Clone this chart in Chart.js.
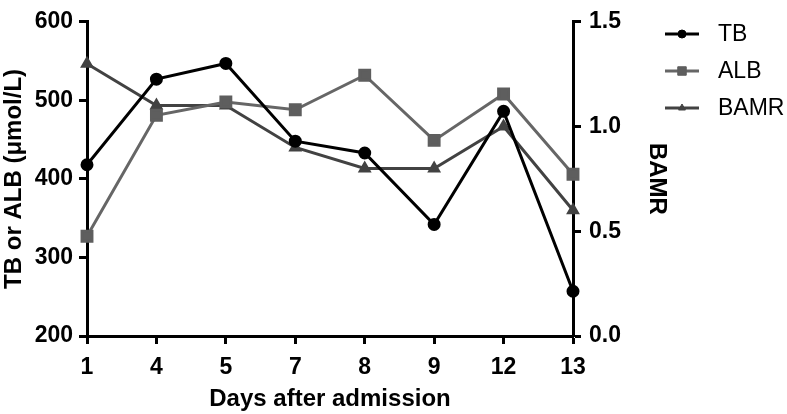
<!DOCTYPE html>
<html>
<head>
<meta charset="utf-8">
<script src="https://cdn.jsdelivr.net/npm/chart.js@4/dist/chart.umd.min.js"></script>
<style>
  html, body { margin: 0; padding: 0; background: #fff; }
  #wrap { width: 787px; height: 414px; position: relative; }
</style>
</head>
<body>
<div id="wrap"><canvas id="chart"></canvas></div>
<script>
// Data
const days = ['1', '4', '5', '7', '8', '9', '12', '13'];
const tbValues = [418, 527, 547, 448, 433, 342, 486, 257];
const albValues = [327, 481, 498, 488, 532, 449, 508, 406];
const bamrValues = [1.3, 1.1, 1.1, 0.9, 0.8, 0.8, 1.0, 0.6];
const leftTicks = [200, 300, 400, 500, 600];
const rightTicks = [0, 0.5, 1.0, 1.5];

const FONT = '"Liberation Sans", Arial, sans-serif';

// Legend drawn by hand: line + marker, like the original figure
const sideLegend = {
  id: 'sideLegend',
  afterDraw(chart) {
    const ctx = chart.ctx;
    chart.data.datasets.forEach((ds, i) => {
      const y = 34 + i * 37;
      ctx.save();
      ctx.strokeStyle = ds.borderColor;
      ctx.lineWidth = 3;
      ctx.beginPath();
      ctx.moveTo(665, y);
      ctx.lineTo(699, y);
      ctx.stroke();
      ctx.fillStyle = ds.pointBackgroundColor;
      ctx.strokeStyle = ds.pointBackgroundColor;
      ctx.lineWidth = 1;
      Chart.helpers.drawPoint(ctx, {
        pointStyle: ds.pointStyle,
        radius: ds.pointRadius - 1,
        borderWidth: 1,
        rotation: 0
      }, 682, y);
      ctx.fillStyle = '#000';
      ctx.font = '23px ' + FONT;
      ctx.textBaseline = 'middle';
      ctx.fillText(ds.label, 718, y + 1);
      ctx.restore();
    });
  }
};

const axisStyle = {
  border: { color: '#000', width: 3 },
  grid: { drawOnChartArea: false, drawTicks: true, tickLength: 8, tickWidth: 3, tickColor: '#000' },
  ticks: { color: '#000', font: { family: FONT, size: 23, weight: 'bold' } }
};

new Chart(document.getElementById('chart'), {
  type: 'line',
  data: {
    labels: days,
    datasets: [
      {
        label: 'TB',
        data: tbValues,
        yAxisID: 'y',
        borderColor: '#000000',
        backgroundColor: '#000000',
        pointBackgroundColor: '#000000',
        pointBorderColor: '#000000',
        pointStyle: 'circle',
        pointRadius: 5,
        borderWidth: 3,
        tension: 0,
        clip: false
      },
      {
        label: 'ALB',
        data: albValues,
        yAxisID: 'y',
        borderColor: '#666666',
        backgroundColor: '#666666',
        pointBackgroundColor: '#5e5e5e',
        pointBorderColor: '#5e5e5e',
        pointStyle: 'rect',
        pointRadius: 7,
        borderWidth: 3,
        tension: 0,
        clip: false
      },
      {
        label: 'BAMR',
        data: bamrValues,
        yAxisID: 'y1',
        borderColor: '#424242',
        backgroundColor: '#424242',
        pointBackgroundColor: '#424242',
        pointBorderColor: '#424242',
        pointStyle: 'triangle',
        pointRadius: 5,
        borderWidth: 3,
        tension: 0,
        clip: false
      }
    ]
  },
  options: {
    responsive: true,
    maintainAspectRatio: false,
    animation: false,
    layout: { padding: { top: 12, right: 104, left: 0, bottom: 0 } },
    plugins: {
      legend: { display: false },
      tooltip: { enabled: false }
    },
    scales: {
      x: {
        type: 'category',
        offset: false,
        border: axisStyle.border,
        grid: axisStyle.grid,
        ticks: { ...axisStyle.ticks, padding: 10, maxRotation: 0, autoSkip: false },
        title: {
          display: true,
          text: 'Days after admission',
          color: '#000',
          font: { family: FONT, size: 24, weight: 'bold' },
          padding: { top: 0, bottom: 0 }
        },
        afterFit: (scale) => { scale.height = 78; }
      },
      y: {
        position: 'left',
        min: 200,
        max: 600,
        border: axisStyle.border,
        grid: axisStyle.grid,
        ticks: { ...axisStyle.ticks, padding: 6, stepSize: 100,
          callback: (v) => leftTicks.includes(v) ? String(v) : '' },
        title: {
          display: true,
          text: 'TB or ALB (μmol/L)',
          color: '#000',
          font: { family: FONT, size: 24, weight: 'bold' },
          padding: { top: 0, bottom: 0 }
        },
        afterFit: (scale) => { scale.width = 87; }
      },
      y1: {
        position: 'right',
        min: 0,
        max: 1.5,
        border: axisStyle.border,
        grid: axisStyle.grid,
        ticks: { ...axisStyle.ticks, padding: 8, stepSize: 0.5,
          callback: (v) => rightTicks.includes(v) ? v.toFixed(1) : '' },
        title: {
          display: true,
          text: 'BAMR',
          color: '#000',
          font: { family: FONT, size: 24, weight: 'bold' },
          padding: { top: 12, bottom: 0 }
        },
        afterFit: (scale) => { scale.width = 110; }
      }
    }
  },
  plugins: [sideLegend]
});
</script>
</body>
</html>
